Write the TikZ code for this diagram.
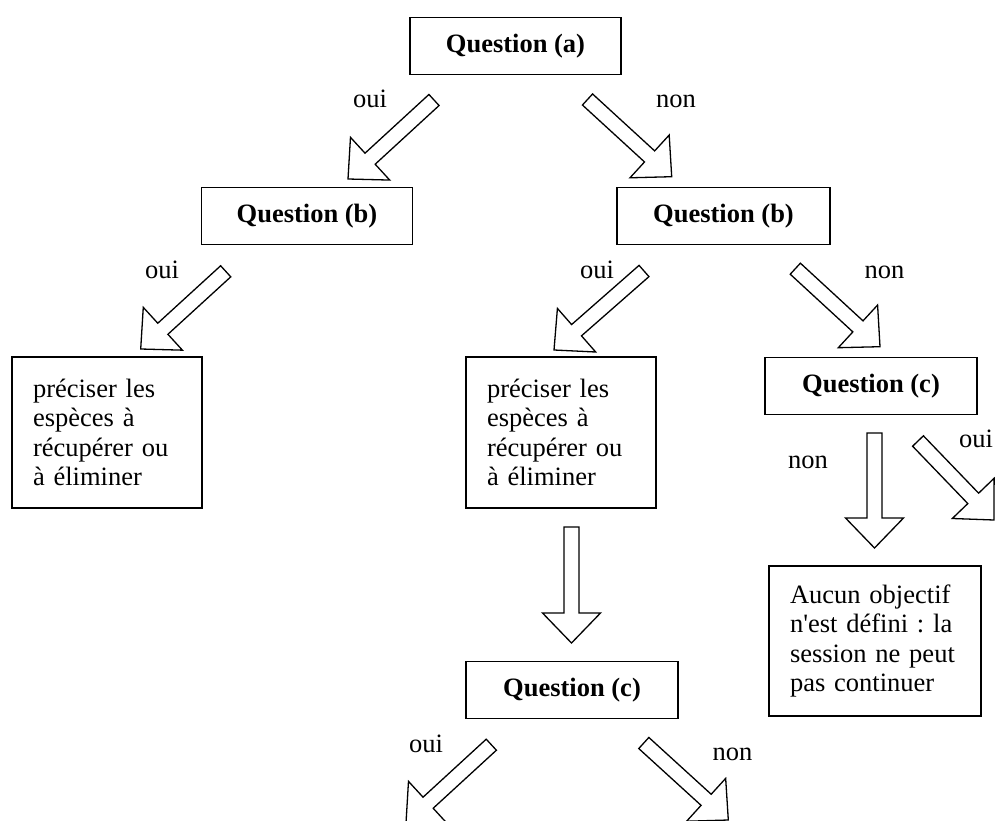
\documentclass[tikz,border=0pt]{standalone}
\usepackage{fontspec}
\setmainfont{Liberation Serif}
\usetikzlibrary{calc}

\newcommand\diagfont{\fontsize{26.5}{29.5}\selectfont\frenchspacing}

\def\aw{7.5pt}  % half width of the arrow shaft
\def\hw{29pt}   % half width of the arrow head
\def\ah{30pt}   % length of the arrow head

\tikzset{
  qbox/.style={draw, line width=1.3pt, minimum width=211pt, minimum height=57pt,
    inner sep=0pt, font=\diagfont\bfseries},
  txtbox/.style={draw, line width=1.3pt, minimum width=190pt, minimum height=151pt,
    text width=148pt, align=left, inner xsep=21pt, inner ysep=0pt, font=\diagfont},
  lbl/.style={anchor=base, inner sep=0pt, font=\diagfont},
  blockarrow/.style={draw, fill=white, line width=1.3pt, line join=miter,
    to path={
      ($(\tikztostart)!\aw!90:(\tikztotarget)$)
      -- ($($(\tikztotarget)!\ah!(\tikztostart)$)!\aw!90:(\tikztotarget)$)
      -- ($($(\tikztotarget)!\ah!(\tikztostart)$)!\hw!90:(\tikztotarget)$)
      -- (\tikztotarget)
      -- ($($(\tikztotarget)!\ah!(\tikztostart)$)!\hw!-90:(\tikztotarget)$)
      -- ($($(\tikztotarget)!\ah!(\tikztostart)$)!\aw!-90:(\tikztotarget)$)
      -- ($(\tikztostart)!\aw!-90:(\tikztotarget)$) -- cycle}}
}

\begin{document}
\begin{tikzpicture}[x=1pt,y=-1pt]

  \clip (0,0) rectangle (995,821);

  % boxes
  \node[qbox] (qa)  at (515.5,46) {Question (a)};
  \node[qbox] (qb1) at (307,216) {Question (b)};
  \node[qbox, minimum width=213pt] (qb2) at (723.5,216) {Question (b)};
  \node[txtbox] (esp1) at (107,432.5) {préciser les\\espèces à\\récupérer ou\\à éliminer};
  \node[txtbox] (esp2) at (561,432.5) {préciser les\\espèces à\\récupérer ou\\à éliminer};
  \node[qbox, minimum width=212pt] (qc2) at (871,386) {Question (c)};
  \node[txtbox, minimum width=212pt, minimum height=150pt, text width=170pt]
    (stop) at (875,641) {Aucun objectif\\\mbox{n\textquotesingle est défini : la}\\session ne peut\\pas continuer};
  \node[qbox, minimum width=212pt] (qc1) at (572,690) {Question (c)};

  % arrow ends
  \coordinate (a1s) at (434,100);    \coordinate (a1e) at (348,179);
  \coordinate (a2s) at (587.5,99.5); \coordinate (a2e) at (671.7,176.7);
  \coordinate (a3s) at (225.7,271.3);\coordinate (a3e) at (140.7,349);
  \coordinate (a4s) at (644,271);    \coordinate (a4e) at (554,350);
  \coordinate (a5s) at (795.3,268.7);\coordinate (a5e) at (880,346.7);
  \coordinate (a6s) at (874.5,433);  \coordinate (a6e) at (874.5,548);
  \coordinate (a7s) at (918,441);    \coordinate (a7e) at (994,520);
  \coordinate (a8s) at (571.5,527);  \coordinate (a8e) at (571.5,643);
  \coordinate (a9s) at (491.3,744.7);\coordinate (a9e) at (406,823);
  \coordinate (a10s) at (643.8,743); \coordinate (a10e) at (728.3,820);

  % block arrows
  \draw[blockarrow] (a1s) to (a1e);
  \draw[blockarrow] (a2s) to (a2e);
  \draw[blockarrow] (a3s) to (a3e);
  \draw[blockarrow] (a4s) to (a4e);
  \draw[blockarrow] (a5s) to (a5e);
  \draw[blockarrow] (a6s) to (a6e);
  \draw[blockarrow] (a7s) to (a7e);
  \draw[blockarrow] (a8s) to (a8e);
  \draw[blockarrow] (a9s) to (a9e);
  \draw[blockarrow] (a10s) to (a10e);

  % labels
  \node[lbl] (oui1) at (370,108) {oui};
  \node[lbl] (non1) at (676,108) {non};
  \node[lbl] (oui2) at (162,278) {oui};
  \node[lbl] (oui3) at (597,278) {oui};
  \node[lbl] (non2) at (884.5,278) {non};
  \node[lbl] (non3) at (808,468) {non};
  \node[lbl] (oui4) at (976,447) {oui};
  \node[lbl] (oui5) at (426,752) {oui};
  \node[lbl] (non4) at (732.5,760) {non};

\end{tikzpicture}
\end{document}
